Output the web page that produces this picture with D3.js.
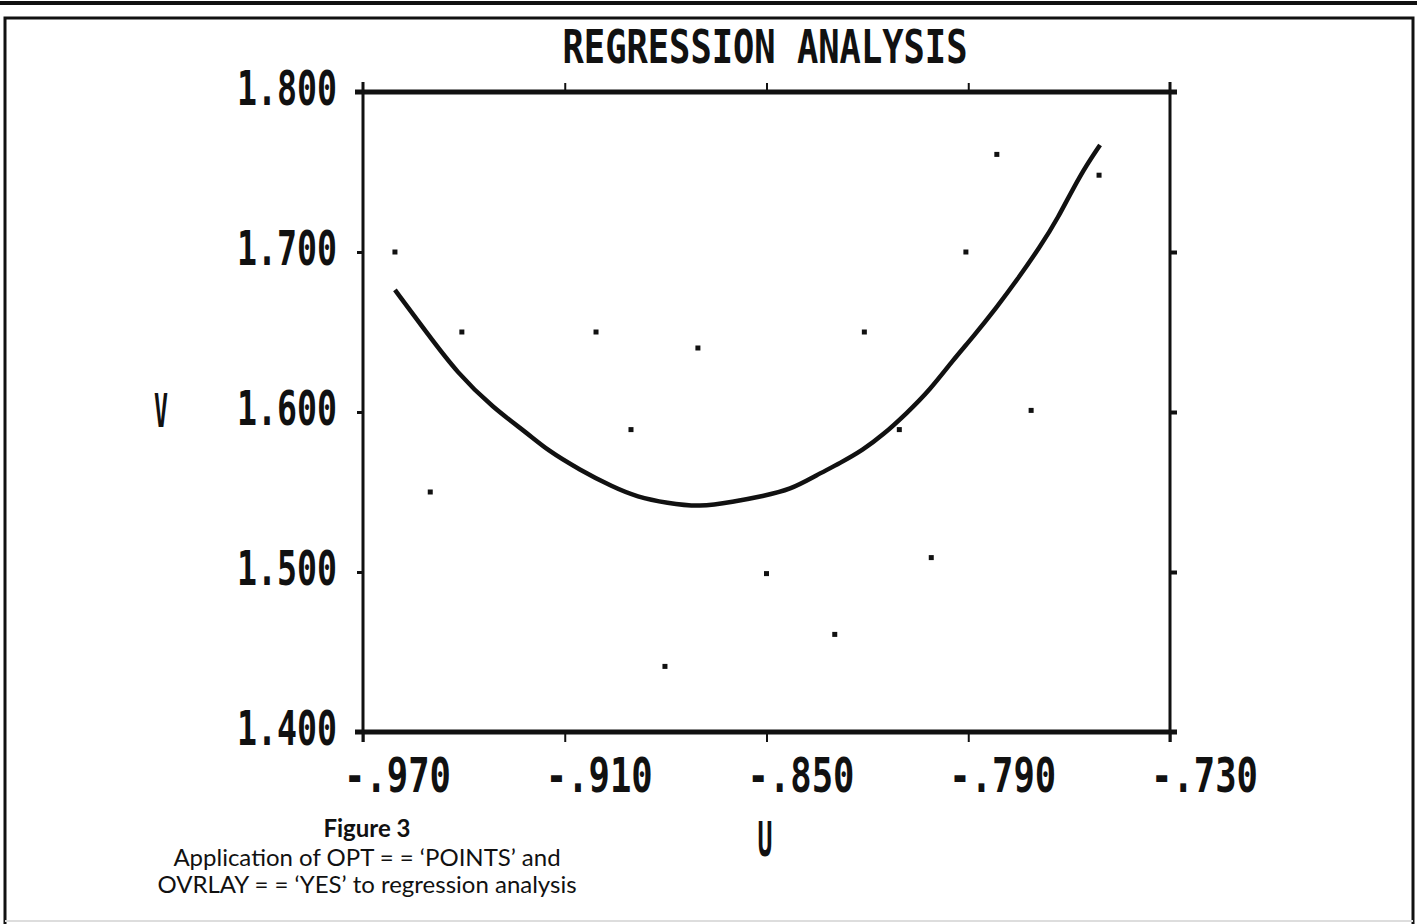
<!DOCTYPE html>
<html>
<head>
<meta charset="utf-8">
<script src="https://cdn.jsdelivr.net/npm/d3@7"></script>
<style>
  html, body { margin: 0; padding: 0; background: #fff; }
  svg { display: block; }
</style>
</head>
<body>
<svg id="chart" width="1417" height="924"></svg>
<script>
// ---- data ----
const title = "REGRESSION ANALYSIS";
const xLabel = "U";
const yLabel = "V";
const xTicks = [-0.97, -0.91, -0.85, -0.79, -0.73];
const xTickLabels = ["-.970", "-.910", "-.850", "-.790", "-.730"];
const yTicks = [1.4, 1.5, 1.6, 1.7, 1.8];
const yTickLabels = ["1.400", "1.500", "1.600", "1.700", "1.800"];

const pointX = [-0.9605, -0.950, -0.9406, -0.9007, -0.8903, -0.8704, -0.8802, -0.850,
                -0.8297, -0.8209, -0.8105, -0.801, -0.7907, -0.7815, -0.7713, -0.7511];
const pointY = [1.700, 1.550, 1.650, 1.650, 1.589, 1.640, 1.441, 1.499,
                1.461, 1.650, 1.589, 1.509, 1.700, 1.761, 1.601, 1.748];

const curveX = [-0.9605, -0.9510, -0.9420, -0.9313, -0.9212, -0.9153, -0.9055, -0.8957,
                -0.8885, -0.8796, -0.8698, -0.8600, -0.8510, -0.8430, -0.8350, -0.8281,
                -0.8213, -0.8154, -0.8082, -0.8014, -0.7945, -0.7886, -0.7815, -0.7755,
                -0.7687, -0.7636, -0.7568, -0.7508];
const curveY = [1.6763, 1.6494, 1.6244, 1.6025, 1.5869, 1.5763, 1.5638, 1.5531,
                1.5469, 1.5431, 1.5406, 1.5438, 1.5475, 1.5513, 1.5606, 1.5681,
                1.5763, 1.5856, 1.5994, 1.6138, 1.6325, 1.6469, 1.6656, 1.6825,
                1.7031, 1.7200, 1.7481, 1.7669];

const captionLines = ["Application of OPT = = \u2018POINTS\u2019 and",
                      "OVRLAY = = \u2018YES\u2019 to regression analysis"];
const captionTitle = "Figure 3";

// ---- layout ----
const svg = d3.select("#chart");
const pLeft = 363, pRight = 1170, pTop = 92, pBottom = 732;
const x = d3.scaleLinear().domain([-0.97, -0.73]).range([pLeft, pRight]);
const y = d3.scaleLinear().domain([1.4, 1.8]).range([pBottom, pTop]);
const mono = "'DejaVu Sans Mono', 'Liberation Mono', monospace";

// page frame
svg.append("line").attr("x1", 0).attr("x2", 1417).attr("y1", 3).attr("y2", 3)
  .attr("stroke", "#111").attr("stroke-width", 4);
svg.append("path")
  .attr("d", "M5,924 L5,18 L1413,18 L1413,924")
  .attr("fill", "none").attr("stroke", "#111").attr("stroke-width", 3);
svg.append("line").attr("x1", 5).attr("x2", 1413).attr("y1", 921).attr("y2", 921)
  .attr("stroke", "#ddd").attr("stroke-width", 2);

// title
svg.append("text").text(title)
  .attr("x", 765).attr("y", 63)
  .attr("text-anchor", "middle")
  .attr("font-family", mono).attr("font-size", 46).attr("font-weight", "bold")
  .attr("textLength", 405).attr("lengthAdjust", "spacingAndGlyphs")
  .attr("fill", "#111");

// axes via d3 axis generators (ticks + labels)
const gx = svg.append("g").attr("transform", `translate(0,${pBottom})`)
  .call(d3.axisBottom(x).tickValues(xTicks).tickSize(10)
        .tickFormat((d, i) => xTickLabels[i]));
gx.select(".domain").remove();
gx.selectAll(".tick line").attr("stroke", "#111").attr("stroke-width", 2);
gx.selectAll(".tick text")
  .attr("y", 60).attr("dy", 0).attr("dx", 34)
  .attr("font-family", mono).attr("font-size", 48).attr("font-weight", "bold")
  .attr("textLength", 107).attr("lengthAdjust", "spacingAndGlyphs")
  .attr("fill", "#111");

const gxt = svg.append("g").attr("transform", `translate(0,${pTop})`)
  .call(d3.axisTop(x).tickValues(xTicks.slice(1, 4)).tickSize(9).tickFormat(""));
gxt.select(".domain").remove();
gxt.selectAll(".tick line").attr("stroke", "#111").attr("stroke-width", 2);

const gy = svg.append("g").attr("transform", `translate(${pLeft},0)`)
  .call(d3.axisLeft(y).tickValues(yTicks).tickSize(6)
        .tickFormat((d, i) => yTickLabels[i]));
gy.select(".domain").remove();
gy.selectAll(".tick line").attr("stroke", "#111").attr("stroke-width", 3);
gy.selectAll(".tick text")
  .attr("x", -26).attr("dy", 12)
  .attr("font-family", mono).attr("font-size", 48).attr("font-weight", "bold")
  .attr("textLength", 100).attr("lengthAdjust", "spacingAndGlyphs")
  .attr("fill", "#111");

const gyr = svg.append("g").attr("transform", `translate(${pRight},0)`)
  .call(d3.axisRight(y).tickValues(yTicks.slice(1, 4)).tickSize(7).tickFormat(""));
gyr.select(".domain").remove();
gyr.selectAll(".tick line").attr("stroke", "#111").attr("stroke-width", 4);

// plot frame
svg.append("line").attr("x1", pLeft - 8).attr("x2", pRight + 7)
  .attr("y1", pTop).attr("y2", pTop).attr("stroke", "#111").attr("stroke-width", 5);
svg.append("line").attr("x1", pLeft - 8).attr("x2", pRight + 7)
  .attr("y1", pBottom).attr("y2", pBottom).attr("stroke", "#111").attr("stroke-width", 5);
svg.append("line").attr("x1", pLeft).attr("x2", pLeft)
  .attr("y1", pTop - 10).attr("y2", pBottom + 10).attr("stroke", "#111").attr("stroke-width", 3);
svg.append("line").attr("x1", pRight).attr("x2", pRight)
  .attr("y1", pTop - 10).attr("y2", pBottom + 10).attr("stroke", "#111").attr("stroke-width", 3);

// axis titles
svg.append("text").text(yLabel)
  .attr("x", 161).attr("y", 427).attr("text-anchor", "middle")
  .attr("font-family", mono).attr("font-size", 46).attr("font-weight", "bold")
  .attr("textLength", 14).attr("lengthAdjust", "spacingAndGlyphs")
  .attr("fill", "#111");
svg.append("text").text(xLabel)
  .attr("x", 765).attr("y", 856).attr("text-anchor", "middle")
  .attr("font-family", mono).attr("font-size", 48).attr("font-weight", "bold")
  .attr("textLength", 15).attr("lengthAdjust", "spacingAndGlyphs")
  .attr("fill", "#111");

// regression curve
const curveData = curveX.map((v, i) => [v, curveY[i]]);
svg.append("path").datum(curveData)
  .attr("d", d3.line().x(d => x(d[0])).y(d => y(d[1])).curve(d3.curveBasis))
  .attr("fill", "none").attr("stroke", "#111").attr("stroke-width", 4.5);

// data points
const pts = pointX.map((v, i) => [v, pointY[i]]);
svg.append("g").selectAll("rect").data(pts).join("rect")
  .attr("x", d => x(d[0]) - 2.5).attr("y", d => y(d[1]) - 2.5)
  .attr("width", 5).attr("height", 5).attr("fill", "#111");

// caption
const cap = svg.append("g").attr("font-family", "Lato, 'Open Sans', sans-serif")
  .attr("fill", "#111").attr("text-anchor", "middle");
cap.append("text").text(captionTitle)
  .attr("x", 367).attr("y", 837).attr("font-size", 24).attr("font-weight", "bold");
cap.selectAll("text.cl").data(captionLines).join("text").attr("class", "cl")
  .text(d => d)
  .attr("x", 367).attr("y", (d, i) => 866 + i * 27)
  .attr("font-size", 24);
</script>
</body>
</html>
